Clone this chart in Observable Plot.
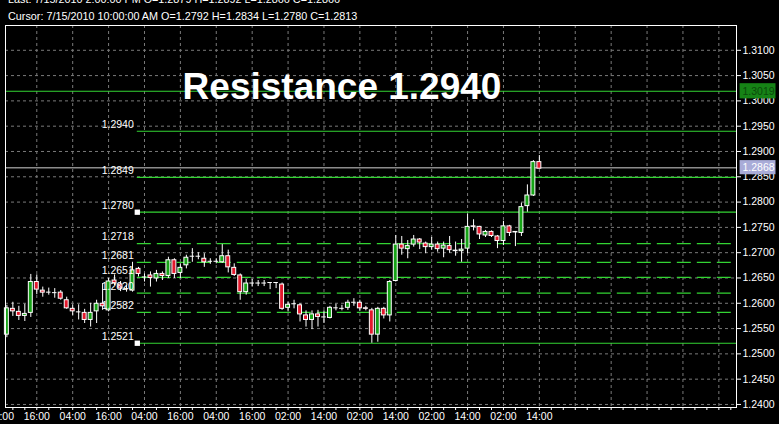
<!DOCTYPE html>
<html><head><meta charset="utf-8">
<script src="https://cdn.jsdelivr.net/npm/d3@7"></script>
<script src="https://cdn.jsdelivr.net/npm/@observablehq/plot@0.6"></script>
<style>
html,body{margin:0;padding:0;background:#000;overflow:hidden;}
#wrap{position:relative;width:779px;height:424px;background:#000;}
#chart{position:absolute;left:0;top:0;}
.hdr{position:absolute;left:8px;font:10.8px "Liberation Sans",Arial,sans-serif;line-height:12px;color:#fff;white-space:nowrap;}
</style></head><body>
<div id="wrap"><div id="chart"></div>
<div class="hdr" id="last" style="top:-7px"></div>
<div class="hdr" id="cursor" style="top:10px"></div>
</div>
<script>
// ---- data: 2-hour EUR/USD candles, oldest first ----
const opens  = [1.2538,1.2589,1.2583,1.2575,1.2581,1.2642,1.2625,1.2622,1.2621,1.2621,
                1.2606,1.2589,1.2583,1.2581,1.2567,1.2584,1.2599,1.2586,1.2645,1.2637,
                1.2629,1.2625,1.2668,1.2652,1.2655,1.2649,1.2658,1.2654,1.2685,1.2660,
                1.2675,1.2693,1.2693,1.2688,1.2683,1.2683,1.2681,1.2693,1.2670,1.2655,
                1.2622,1.2640,1.2640,1.2640,1.2641,1.2641,1.2637,1.2591,1.2599,1.2596,
                1.2576,1.2567,1.2578,1.2573,1.2571,1.2591,1.2590,1.2591,1.2602,1.2601,
                1.2590,1.2586,1.2538,1.2589,1.2576,1.2644,1.2716,1.2707,1.2716,1.2726,
                1.2718,1.2711,1.2716,1.2708,1.2713,1.2704,1.2703,1.2708,1.2752,1.2751,
                1.2734,1.2741,1.2732,1.2723,1.2752,1.2741,1.2739,1.2792,1.2813,1.2879];
const highs  = [1.2596,1.2602,1.2594,1.2598,1.2657,1.2656,1.2632,1.2630,1.2629,1.2625,
                1.2612,1.2597,1.2597,1.2588,1.2600,1.2606,1.2639,1.2649,1.2656,1.2643,
                1.2635,1.2681,1.2671,1.2658,1.2662,1.2665,1.2662,1.2691,1.2688,1.2678,
                1.2695,1.2708,1.2700,1.2698,1.2688,1.2688,1.2716,1.2705,1.2678,1.2658,
                1.2647,1.2647,1.2645,1.2645,1.2641,1.2641,1.2640,1.2602,1.2606,1.2599,
                1.2585,1.2585,1.2586,1.2585,1.2594,1.2598,1.2596,1.2606,1.2609,1.2606,
                1.2594,1.2590,1.2592,1.2592,1.2645,1.2734,1.2732,1.2724,1.2734,1.2728,
                1.2721,1.2730,1.2721,1.2721,1.2732,1.2721,1.2726,1.2776,1.2765,1.2752,
                1.2744,1.2743,1.2734,1.2762,1.2754,1.2741,1.2798,1.2834,1.2882,1.2892];
const lows   = [1.2532,1.2574,1.2566,1.2564,1.2572,1.2617,1.2612,1.2616,1.2610,1.2606,
                1.2588,1.2576,1.2567,1.2560,1.2553,1.2560,1.2586,1.2583,1.2635,1.2623,
                1.2622,1.2622,1.2652,1.2642,1.2632,1.2642,1.2645,1.2649,1.2649,1.2649,
                1.2668,1.2681,1.2686,1.2671,1.2677,1.2678,1.2679,1.2660,1.2653,1.2606,
                1.2616,1.2632,1.2633,1.2633,1.2627,1.2629,1.2586,1.2583,1.2589,1.2563,
                1.2553,1.2548,1.2553,1.2560,1.2569,1.2585,1.2585,1.2586,1.2594,1.2584,
                1.2585,1.2521,1.2523,1.2569,1.2563,1.2642,1.2695,1.2688,1.2711,1.2706,
                1.2698,1.2705,1.2701,1.2690,1.2699,1.2693,1.2681,1.2698,1.2743,1.2726,
                1.2730,1.2730,1.2708,1.2714,1.2732,1.2712,1.2732,1.2780,1.2811,1.2866];
const closes = [1.2590,1.2584,1.2575,1.2579,1.2642,1.2627,1.2621,1.2622,1.2621,1.2609,
                1.2590,1.2584,1.2583,1.2567,1.2581,1.2599,1.2594,1.2643,1.2639,1.2629,
                1.2629,1.2665,1.2658,1.2652,1.2650,1.2658,1.2654,1.2685,1.2658,1.2670,
                1.2690,1.2693,1.2693,1.2681,1.2683,1.2683,1.2693,1.2671,1.2656,1.2622,
                1.2639,1.2640,1.2640,1.2640,1.2641,1.2641,1.2589,1.2597,1.2599,1.2578,
                1.2567,1.2578,1.2573,1.2573,1.2591,1.2591,1.2590,1.2601,1.2602,1.2590,
                1.2589,1.2538,1.2589,1.2576,1.2642,1.2716,1.2708,1.2713,1.2726,1.2720,
                1.2711,1.2716,1.2707,1.2714,1.2705,1.2703,1.2706,1.2751,1.2751,1.2736,
                1.2741,1.2733,1.2723,1.2752,1.2739,1.2740,1.2790,1.2813,1.2879,1.2866];

// horizontal levels
const keyLevels   = [1.2940, 1.2849, 1.2780, 1.2521];
const minorLevels = [1.2718, 1.2681, 1.2651, 1.2620, 1.2582];
const markedLevels = [1.2780, 1.2521];
const upperLevel = 1.3019;
const currentPrice = 1.2868;

// axis ticks
const yTickValues = [1.2400,1.2450,1.2500,1.2550,1.2600,1.2650,1.2700,1.2750,1.2800,1.2850,1.2900,1.2950,1.3000,1.3050,1.3100];
const xTickLabels = ["16:00","16:00","04:00","16:00","04:00","16:00","04:00","16:00","02:00","14:00","02:00","14:00","02:00","14:00","02:00","14:00"];

const title = "Resistance 1.2940";
const lastText = "Last: 7/15/2010 2:00:00 PM O=1.2879 H=1.2892 L=1.2866 C=1.2866";
const cursorText = "Cursor: 7/15/2010 10:00:00 AM O=1.2792 H=1.2834 L=1.2780 C=1.2813";

// ---- build ----
document.getElementById("last").textContent = lastText;
document.getElementById("cursor").textContent = cursorText;

const candles = opens.map((o, i) => ({slot: i + 1, open: o, high: highs[i], low: lows[i], close: closes[i]}));
const bodies = candles.filter(d => Math.abs(d.close - d.open) > 0.00005);
const dojis = candles.filter(d => Math.abs(d.close - d.open) <= 0.00005);
const levels = [...keyLevels, ...minorLevels];

const xMin = 0.77, xMax = 122.95;
const levelStart = 22.8;
const GREEN = "#16a316", RED = "#e3182c", LINE = "#33d433", GRID = "#7a7a7a";
const xTickSlots = xTickLabels.map((_, i) => i * 6);

const chart = Plot.plot({
  width: 779, height: 424,
  marginTop: 25, marginBottom: 17, marginLeft: 5, marginRight: 43,
  x: {domain: [xMin, xMax], axis: null},
  y: {domain: [1.2394, 1.3149], axis: null},
  style: {background: "#000", color: "#fff", fontFamily: "'Liberation Sans', Arial, sans-serif", fontSize: "10.5px"},
  marks: [
    Plot.gridX({ticks: d3.range(6, 123, 6), stroke: GRID, strokeOpacity: 1, strokeDasharray: "3,3"}),
    Plot.gridY({ticks: yTickValues, stroke: GRID, strokeOpacity: 1, strokeDasharray: "3,3"}),
    // reference lines
    Plot.ruleY([upperLevel], {stroke: LINE, strokeWidth: 1.2}),
    Plot.ruleY([currentPrice], {stroke: "#8c8c8c", strokeWidth: 1.5}),
    Plot.ruleY(keyLevels, {x1: levelStart, x2: xMax, stroke: LINE, strokeWidth: 1.2}),
    Plot.ruleY(minorLevels, {x1: levelStart, x2: xMax, stroke: LINE, strokeWidth: 1.2, strokeDasharray: "14,6"}),
    // candles
    Plot.ruleX(candles, {x: "slot", y1: "low", y2: "high", stroke: "#fff"}),
    Plot.rect(bodies, {x1: d => d.slot - 0.33, x2: d => d.slot + 0.33, y1: "open", y2: "close",
      fill: d => d.close > d.open ? GREEN : RED, stroke: "#fff", strokeWidth: 1}),
    Plot.ruleY(dojis, {y: "close", x1: d => d.slot - 0.38, x2: d => d.slot + 0.38, stroke: "#fff"}),
    // level labels and markers
    Plot.text(levels, {x: levelStart, y: d => d, text: d => d.toFixed(4), textAnchor: "end",
      dx: -3.5, dy: -6.5, fill: "#fff", fontSize: 10.5}),
    Plot.dot(markedLevels, {x: levelStart, y: d => d, symbol: "square", r: 3, fill: "#fff"}),
    // frame and axes
    Plot.frame({stroke: "#fff"}),
    Plot.axisY({anchor: "right", label: null, ticks: yTickValues, tickFormat: d => d.toFixed(4), tickSize: 4, tickPadding: 2, stroke: "#fff", fill: "#fff"}),
    Plot.axisX({anchor: "bottom", label: null, ticks: d3.range(2, 123, 2), tickFormat: () => "", tickSize: 3, stroke: "#fff"}),
    Plot.axisX({anchor: "bottom", label: null, ticks: xTickSlots, tickFormat: d => xTickLabels[Math.round(d / 6)], tickSize: 0, tickPadding: 5, fill: "#fff"}),
    // price boxes on the axis
    Plot.rect([upperLevel], {x1: xMax + 0.6, x2: xMax + 6.6, y1: d => d - 0.0015, y2: d => d + 0.0015, fill: "#168316"}),
    Plot.text([upperLevel], {x: xMax, y: d => d, text: d => d.toFixed(4), textAnchor: "start", dx: 6, fill: "#0b4a0b"}),
    Plot.rect([currentPrice], {x1: xMax + 0.6, x2: xMax + 6.6, y1: d => d - 0.0014, y2: d => d + 0.0014, fill: "#a9acd8"}),
    Plot.text([currentPrice], {x: xMax, y: d => d, text: d => d.toFixed(4), textAnchor: "start", dx: 6, fill: "#fff"}),
    // annotation
    Plot.text([title], {frameAnchor: "top", lineAnchor: "middle", dx: -29, dy: 62, fontSize: 37, fontWeight: "bold", fill: "#fff"})
  ]
});
document.getElementById("chart").appendChild(chart);
</script>
</body></html>
